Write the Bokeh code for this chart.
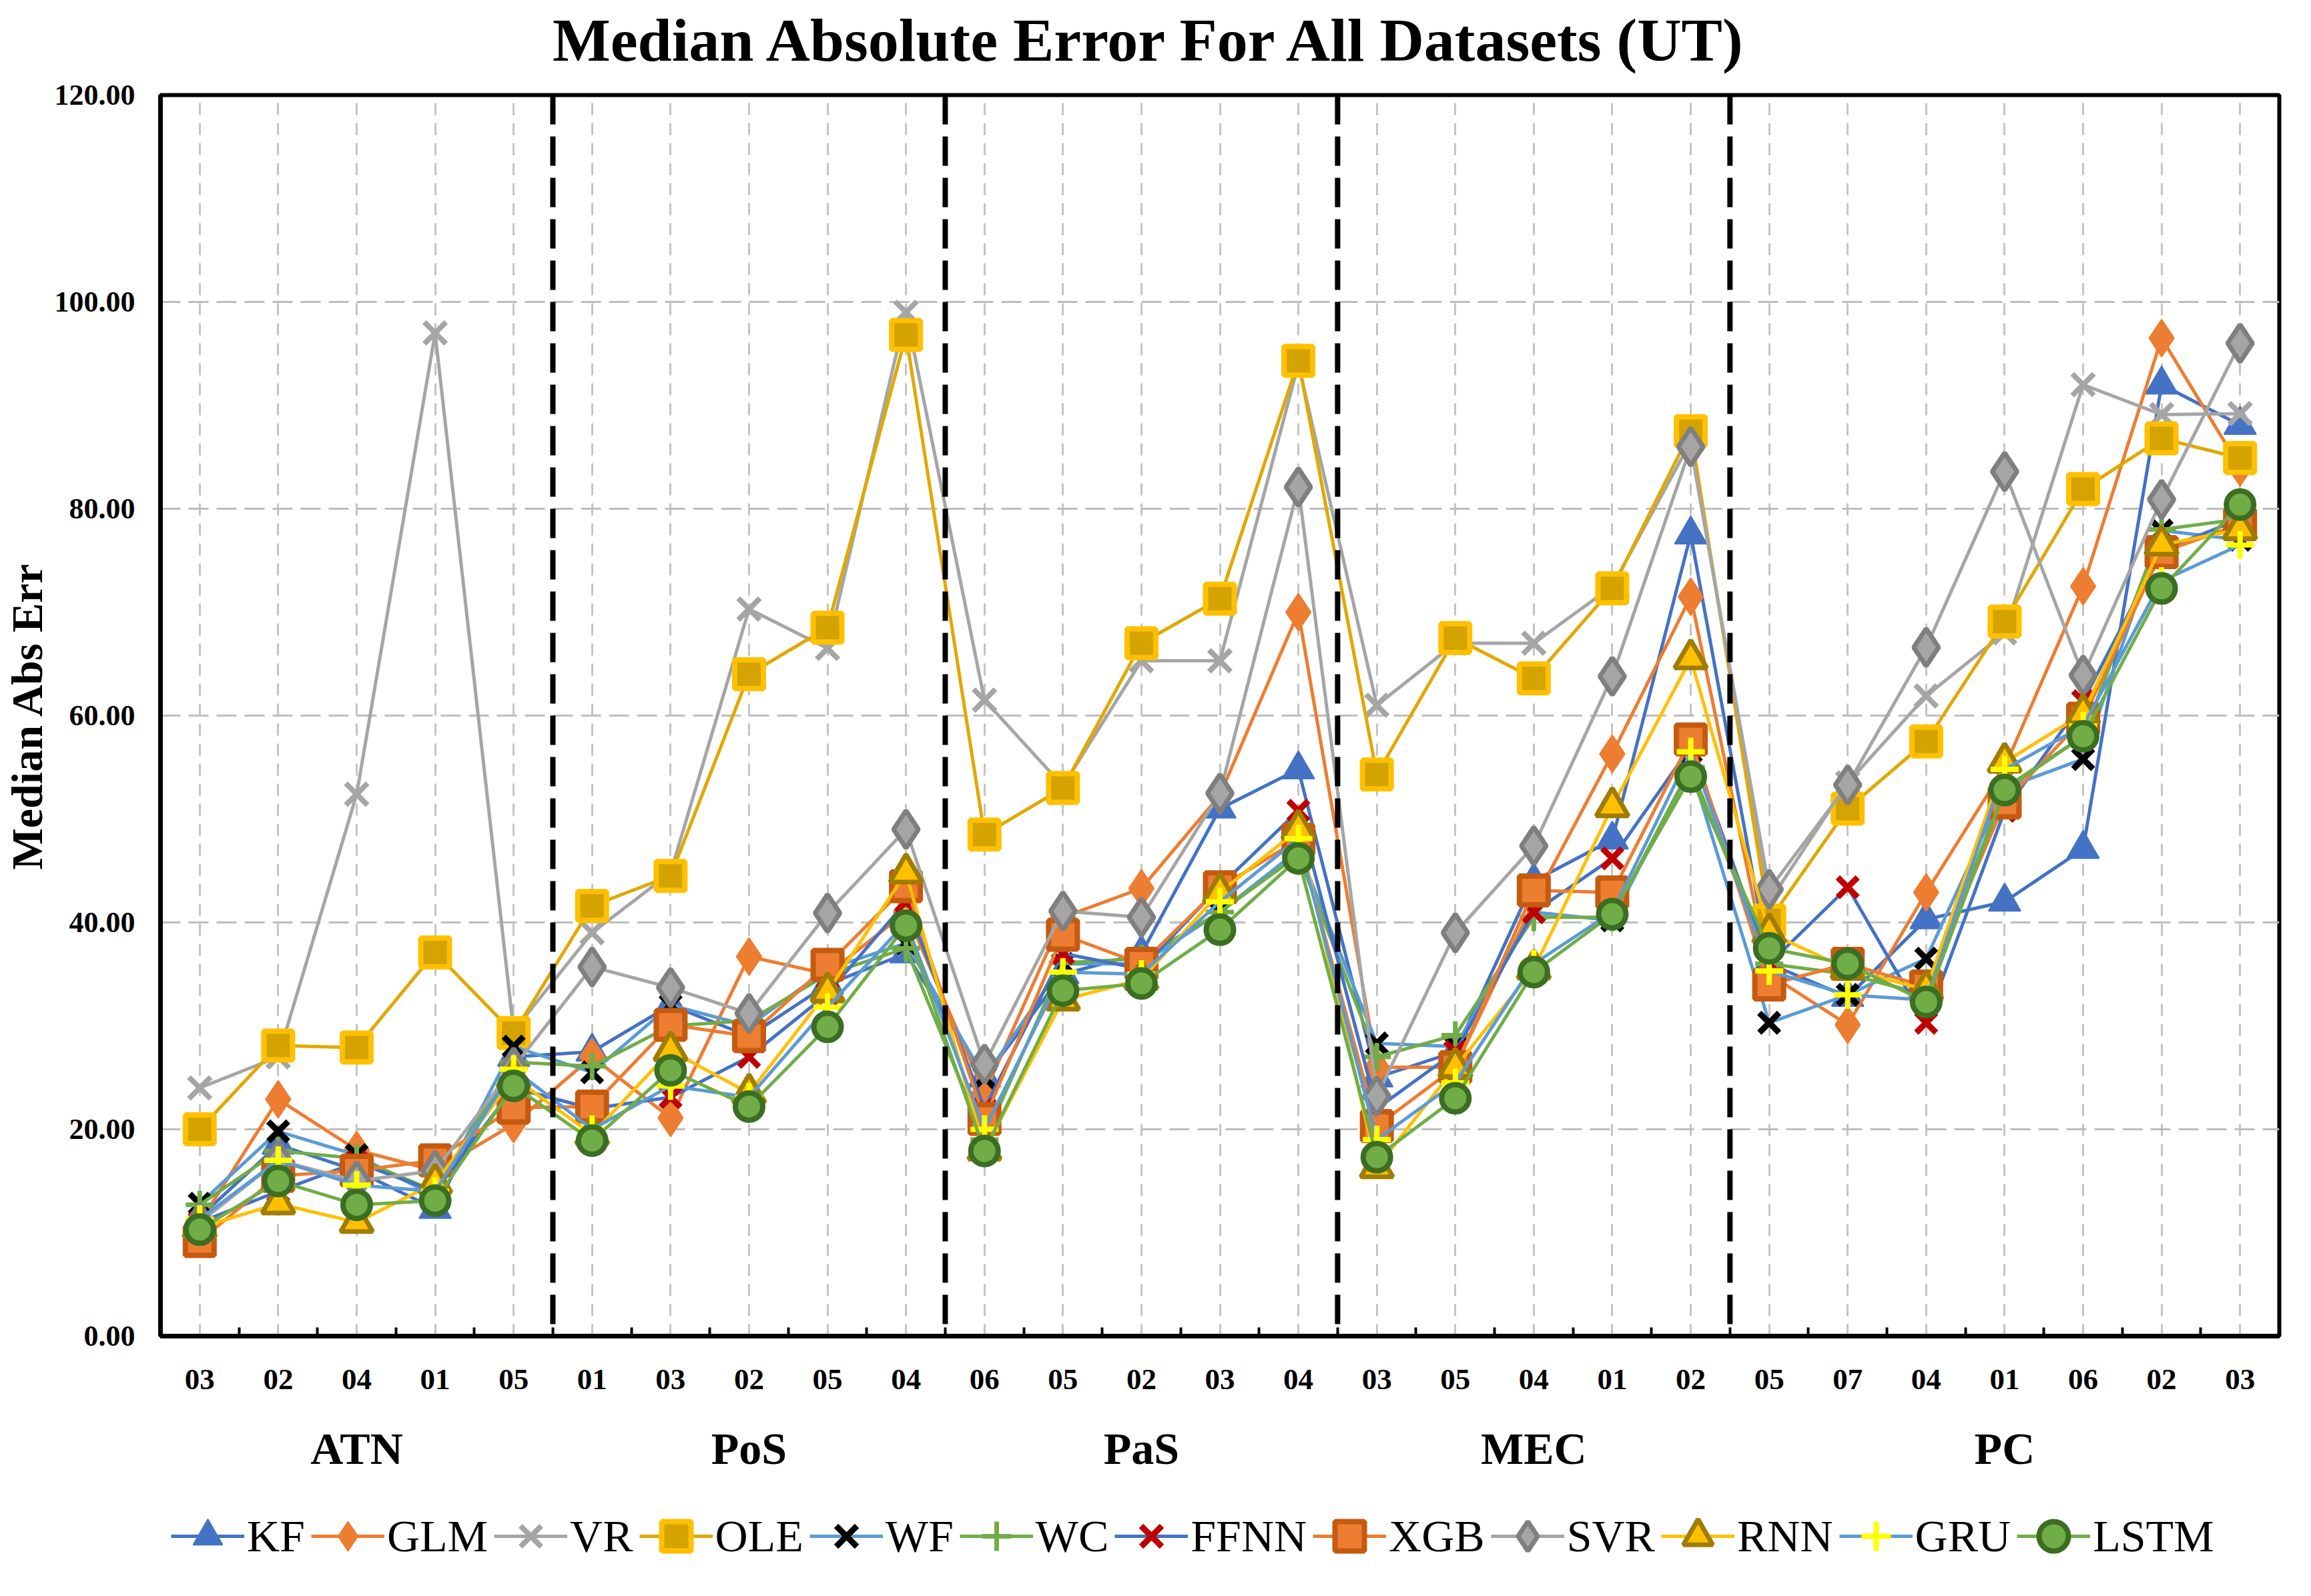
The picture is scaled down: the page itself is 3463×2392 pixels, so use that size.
from bokeh.plotting import figure
from bokeh.layouts import column
from bokeh.models import (Range1d, FixedTicker, LinearAxis, Span, Legend, LegendItem,
                          PrintfTickFormatter, Label)
from bokeh.embed import file_html
from bokeh.resources import INLINE

# ---------------- data ----------------
title_text = "Median Absolute Error For All Datasets (UT)"
y_label = "Median Abs Err"
groups = ["ATN", "PoS", "PaS", "MEC", "PC"]
group_sizes = [5, 5, 5, 5, 7]
codes = ["03", "02", "04", "01", "05",
         "01", "03", "02", "05", "04",
         "06", "05", "02", "03", "04",
         "03", "05", "04", "01", "02",
         "05", "07", "04", "01", "06", "02", "03"]
y_ticks = [0, 20, 40, 60, 80, 100, 120]

KF = [11.5, 18.5, 16.0, 12.3, 27.0, 27.5, 32.0, 29.0, 34.0, 37.0, 25.0, 35.0, 37.0, 51.0, 54.8,
      25.0, 27.5, 44.0, 48.0, 77.5, 36.0, 32.8, 40.3, 42.0, 47.1, 92.0, 88.1]
GLM = [11.0, 22.9, 18.0, 16.0, 20.5, 27.0, 21.1, 36.7, 35.0, 41.0, 23.5, 40.5, 43.3, 52.3, 70.0,
       26.0, 26.0, 42.0, 56.3, 71.5, 35.0, 30.1, 42.9, 55.0, 72.5, 96.5, 84.0]
VR = [24.0, 27.0, 52.4, 97.0, 29.5, 39.0, 44.8, 70.3, 66.5, 99.0, 61.5, 53.2, 65.3, 65.3, 94.0,
      61.0, 67.0, 67.0, 72.5, 86.5, 42.0, 53.5, 61.9, 68.0, 92.0, 89.1, 89.2]
OLE = [20.0, 28.1, 27.9, 37.1, 29.3, 41.6, 44.5, 64.0, 68.5, 96.8, 48.5, 53.0, 67.0, 71.3, 94.3,
       54.3, 67.5, 63.6, 72.3, 87.5, 40.2, 51.0, 57.5, 69.1, 81.9, 86.8, 84.9]
WF = [12.8, 19.8, 17.5, 13.5, 28.0, 25.5, 32.0, 30.0, 35.5, 38.0, 25.0, 36.0, 36.0, 41.0, 47.0,
      28.3, 28.0, 41.0, 40.2, 55.0, 30.3, 33.0, 36.5, 53.0, 55.8, 77.9, 77.0]
WC = [12.7, 17.9, 17.2, 14.0, 26.5, 26.1, 30.0, 30.5, 35.0, 37.5, 19.0, 36.1, 36.5, 41.0, 46.5,
      27.0, 29.1, 40.5, 40.5, 55.0, 36.0, 35.0, 33.0, 53.0, 58.0, 78.0, 79.0]
FFNN = [11.0, 14.0, 16.8, 14.0, 24.0, 22.0, 23.1, 27.0, 33.1, 42.0, 22.0, 37.0, 35.5, 43.5, 50.8,
        22.0, 27.5, 41.0, 46.2, 57.0, 36.0, 43.4, 30.3, 50.8, 61.4, 76.0, 79.0]
XGB = [9.2, 15.5, 16.0, 17.0, 22.1, 22.2, 30.1, 29.0, 35.9, 43.5, 21.0, 38.8, 36.0, 43.4, 48.0,
       20.3, 26.0, 43.1, 42.9, 57.7, 34.0, 36.0, 33.8, 51.6, 59.7, 75.8, 78.5]
SVR = [11.0, 17.0, 15.0, 16.0, 26.0, 35.7, 33.7, 31.2, 40.9, 49.0, 26.3, 41.1, 40.5, 52.5, 82.1,
       23.2, 39.0, 47.4, 63.8, 86.0, 43.2, 53.3, 66.6, 83.6, 63.9, 80.9, 96.0]
RNN = [10.5, 12.8, 11.0, 14.8, 25.0, 19.5, 27.6, 23.5, 33.3, 44.8, 18.0, 32.5, 34.5, 42.9, 49.0,
       16.3, 26.0, 35.5, 51.2, 65.5, 39.0, 35.5, 33.5, 55.5, 60.2, 76.5, 78.0]
GRU = [11.3, 17.0, 14.6, 14.0, 25.8, 20.0, 24.2, 23.1, 31.8, 40.0, 20.0, 35.2, 35.0, 42.0, 48.1,
       19.0, 24.5, 36.0, 41.0, 56.5, 35.3, 33.0, 32.5, 54.8, 59.0, 73.0, 76.5]
LSTM = [10.3, 15.0, 12.7, 13.1, 24.2, 18.9, 25.7, 22.2, 29.9, 39.7, 17.9, 33.4, 34.1, 39.3, 46.2,
        17.3, 23.0, 35.2, 40.8, 54.1, 37.5, 36.0, 32.3, 52.8, 58.0, 72.3, 80.4]

series_names = ["KF", "GLM", "VR", "OLE", "WF", "WC", "FFNN", "XGB", "SVR", "RNN", "GRU", "LSTM"]
series_values = [KF, GLM, VR, OLE, WF, WC, FFNN, XGB, SVR, RNN, GRU, LSTM]

# ---------------- styles ----------------
styles = {
    "KF":   dict(line="#4472C4", marker="triangle", fill="#4472C4", mline="#4472C4", mw=2, size=48),
    "GLM":  dict(line="#ED7D31", marker="diamond", fill="#ED7D31", mline="#ED7D31", mw=2, size=56),
    "VR":   dict(line="#A5A5A5", marker="x", fill="#A5A5A5", mline="#A5A5A5", mw=8, size=46),
    "OLE":  dict(line="#E0A800", marker="square", fill="#D4A300", mline="#FFC000", mw=8, size=43),
    "WF":   dict(line="#5B9BD5", marker="x", fill="black", mline="black", mw=9, size=42),
    "WC":   dict(line="#70AD47", marker="cross", fill="#70AD47", mline="#70AD47", mw=7, size=42),
    "FFNN": dict(line="#4472C4", marker="x", fill="#C00000", mline="#C00000", mw=9, size=42),
    "XGB":  dict(line="#ED7D31", marker="square", fill="#ED7D31", mline="#C55A11", mw=8, size=43),
    "SVR":  dict(line="#A5A5A5", marker="diamond", fill="#A5A5A5", mline="#7F7F7F", mw=7, size=56),
    "RNN":  dict(line="#FFC000", marker="triangle", fill="#FFC000", mline="#A07C00", mw=7, size=48),
    "GRU":  dict(line="#5B9BD5", marker="cross", fill="#FFFF00", mline="#FFFF00", mw=8, size=42),
    "LSTM": dict(line="#70AD47", marker="circle", fill="#70AD47", mline="#3B6E22", mw=8, size=41),
}

SERIF = "Liberation Serif"
W = 3440
LEFT, RIGHT = 235, 25
x = list(range(len(codes)))


def bare_figure(height, **kw):
    f = figure(width=W, height=height, x_range=Range1d(0, 1), y_range=Range1d(0, 1),
               output_backend="svg", toolbar_location=None,
               x_axis_location=None, y_axis_location=None, **kw)
    f.grid.visible = False
    f.outline_line_color = None
    f.background_fill_color = "white"
    f.border_fill_color = "white"
    return f


# ---------------- title strip ----------------
TITLE_H = 112
pt = bare_figure(TITLE_H, min_border_left=LEFT, min_border_right=RIGHT,
                 min_border_top=0, min_border_bottom=0)
pt.add_layout(Label(x=1486, y=TITLE_H - 59, x_units="screen", y_units="screen",
                    text=title_text, text_align="center", text_baseline="middle",
                    text_font=SERIF, text_font_style="bold", text_font_size="92px",
                    text_color="black"))

# ---------------- main chart ----------------
TOP = 30
BOTTOM = 232
p = figure(width=W, height=TOP + 1860 + BOTTOM,
           x_range=Range1d(-0.5, len(codes) - 0.5), y_range=Range1d(0, 120),
           output_backend="svg", toolbar_location=None,
           min_border_left=LEFT, min_border_right=RIGHT, min_border_top=TOP,
           min_border_bottom=BOTTOM)

p.outline_line_color = "black"
p.outline_line_width = 6
p.background_fill_color = "white"
p.border_fill_color = "white"

# x axis: category codes, boundary ticks as minor ticks
xa = p.xaxis[0]
xa.ticker = FixedTicker(ticks=x, minor_ticks=[i + 0.5 for i in range(len(codes) - 1)])
xa.major_label_overrides = {i: c for i, c in enumerate(codes)}
xa.major_tick_in = 0
xa.major_tick_out = 0
xa.minor_tick_in = 13
xa.minor_tick_out = 0
xa.minor_tick_line_width = 4
xa.minor_tick_line_color = "black"
xa.axis_line_width = 7
xa.axis_line_color = "black"
xa.major_label_text_font = SERIF
xa.major_label_text_font_style = "bold"
xa.major_label_text_font_size = "45px"
xa.major_label_text_color = "black"
xa.major_label_standoff = 50

# group labels axis
centers = []
start = 0
for n in group_sizes:
    centers.append(start + (n - 1) / 2)
    start += n
ga = LinearAxis(ticker=FixedTicker(ticks=centers),
                major_label_overrides={c: g for c, g in zip(centers, groups)})
ga.axis_line_color = None
ga.major_tick_line_color = None
ga.minor_tick_line_color = None
ga.major_label_text_font = SERIF
ga.major_label_text_font_style = "bold"
ga.major_label_text_font_size = "68px"
ga.major_label_text_color = "black"
ga.major_label_standoff = 42
p.add_layout(ga, "below")

# y axis
ya = p.yaxis[0]
ya.ticker = FixedTicker(ticks=y_ticks)
ya.formatter = PrintfTickFormatter(format="%.2f")
ya.major_tick_in = 0
ya.major_tick_out = 0
ya.minor_tick_line_color = None
ya.axis_line_width = 7
ya.axis_line_color = "black"
ya.major_label_text_font = SERIF
ya.major_label_text_font_style = "bold"
ya.major_label_text_font_size = "44px"
ya.major_label_text_color = "black"
ya.major_label_standoff = 38
ya.axis_label = y_label
ya.axis_label_text_font = SERIF
ya.axis_label_text_font_style = "bold"
ya.axis_label_text_font_size = "66px"
ya.axis_label_text_color = "black"
ya.axis_label_standoff = 2

# grids
p.xgrid.grid_line_color = "#C4C4C4"
p.xgrid.grid_line_dash = "18 12"
p.xgrid.grid_line_width = 3
p.ygrid.grid_line_color = "#BDBDBD"
p.ygrid.grid_line_dash = "30 12"
p.ygrid.grid_line_width = 3

# group separators
start = 0
for n in group_sizes[:-1]:
    start += n
    p.add_layout(Span(location=start - 0.5, dimension="height", line_color="black",
                      line_width=8, line_dash="44 18"))

# series
for name, vals in zip(series_names, series_values):
    st = styles[name]
    p.line(x, vals, line_color=st["line"], line_width=5)
    p.scatter(x, vals, marker=st["marker"], size=st["size"],
              fill_color=st["fill"], line_color=st["mline"], line_width=st["mw"])

# ---------------- legend strip ----------------
LEG_H = 2378 - 8 - TITLE_H - (TOP + 1860 + BOTTOM)
pl = bare_figure(LEG_H, min_border_left=LEFT, min_border_right=RIGHT,
                 min_border_top=0, min_border_bottom=0)
items = []
for name, vals in zip(series_names, series_values):
    st = styles[name]
    # first point only (outside this strip's visible range) so the legend can draw the glyph
    ln = pl.line(x[:1], vals[:1], line_color=st["line"], line_width=5)
    sc = pl.scatter(x[:1], vals[:1], marker=st["marker"], size=st["size"],
                    fill_color=st["fill"], line_color=st["mline"], line_width=st["mw"])
    items.append(LegendItem(label=name, renderers=[ln, sc]))

legend = Legend(items=items, orientation="horizontal", location="center_left")
legend.label_text_font = SERIF
legend.label_text_font_size = "68px"
legend.label_text_color = "black"
legend.glyph_width = 110
legend.glyph_height = 120
legend.label_standoff = 4
legend.spacing = 9
legend.margin = 16
legend.padding = 6
legend.border_line_color = None
legend.background_fill_alpha = 0
pl.add_layout(legend, "center")

layout = column(pt, p, pl, spacing=0)
open("out.html", "w").write(file_html(layout, INLINE))
